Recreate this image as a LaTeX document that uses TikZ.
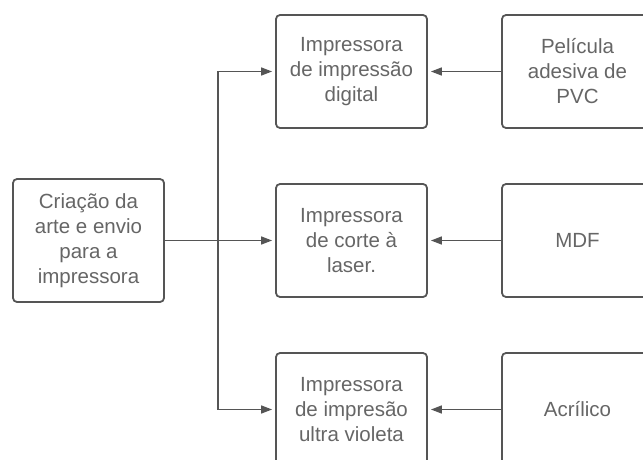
\documentclass[tikz,border=0pt]{standalone}
\usepackage{fontspec}
\setmainfont{Liberation Sans}
\usetikzlibrary{arrows.meta}
\definecolor{linec}{HTML}{555555}
\definecolor{textc}{HTML}{666666}
\tikzset{
  box/.style={draw=linec, line width=1.8pt, rounded corners=4pt, fill=white,
    minimum width=151pt, minimum height=113pt, inner sep=0pt, align=center,
    text=textc, font=\fontsize{20.5}{25}\selectfont},
  conn/.style={draw=linec, line width=1.4pt},
  arr/.style={conn, -{Triangle[length=11pt,width=8pt]}, shorten >=3pt},
}
\begin{document}
\begin{tikzpicture}[x=1pt,y=-1pt]
\useasboundingbox (0,0) rectangle (643,460);
\clip (0,0) rectangle (643,460);
\node[box, minimum height=123pt] (L) at (88.5,240.5) {Criação da\\arte e envio\\para a\\impressora};
\node[box] (M1) at (351.5,71.5) {Impressora\\de impressão\\digital};
\node[box] (M2) at (351.5,240.5) {Impressora\\de corte à\\laser.};
\node[box] (M3) at (351.5,409.5) {Impressora\\de impresão\\ultra violeta};
\node[box] (R1) at (577.5,71.5) {Película\\adesiva de\\PVC};
\node[box] (R2) at (577.5,240.5) {MDF};
\node[box] (R3) at (577.5,409.5) {Acrílico};
\coordinate (J) at (218,240.5);
\draw[conn] (L.east) -- (J);
\draw[arr] (J) |- (M1.west);
\draw[arr] (J) -- (M2.west);
\draw[arr] (J) |- (M3.west);
\draw[arr] (R1.west) -- (M1.east);
\draw[arr] (R2.west) -- (M2.east);
\draw[arr] (R3.west) -- (M3.east);
\end{tikzpicture}
\end{document}
